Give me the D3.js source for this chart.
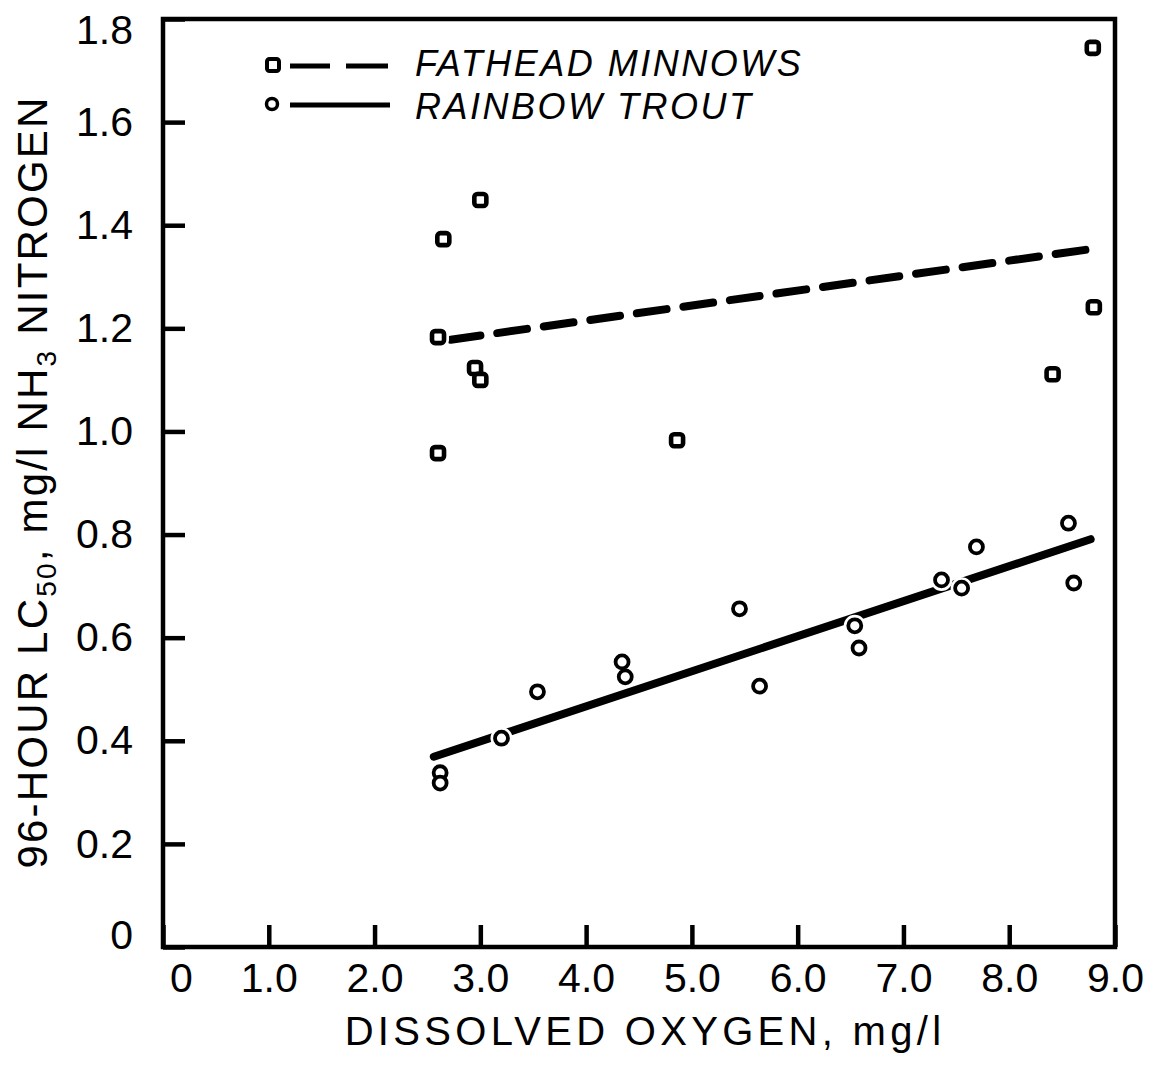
<!DOCTYPE html>
<html>
<head>
<meta charset="utf-8">
<script src="https://cdn.jsdelivr.net/npm/d3@7"></script>
<style>
  body { margin: 0; background: #fff; }
  svg { display: block; }
  text { font-family: "Liberation Sans", Arial, Helvetica, sans-serif; fill: #000; }
</style>
</head>
<body>
<div id="chart"></div>
<script>
// fathead minnows (squares)
const fatheadDO    = [2.60, 2.65, 3.00, 2.95, 3.00, 2.60, 4.86, 8.41, 8.79, 8.80];
const fatheadLC50  = [1.183, 1.373, 1.449, 1.123, 1.100, 0.958, 0.983, 1.111, 1.744, 1.241];
// rainbow trout (circles)
const troutDO      = [2.62, 2.62, 3.20, 3.54, 4.34, 4.37, 5.45, 5.64, 6.54, 6.58, 7.36, 7.55, 7.69, 8.56, 8.61];
const troutLC50    = [0.338, 0.318, 0.405, 0.495, 0.553, 0.524, 0.656, 0.506, 0.623, 0.580, 0.712, 0.696, 0.776, 0.822, 0.706];
// fitted lines, end points
const fatheadFitDO   = [2.72, 8.85];
const fatheadFitLC50 = [1.178, 1.356];
const troutFitDO     = [2.56, 8.77];
const troutFitLC50   = [0.369, 0.791];
// ticks
const xTicks = [0, 1, 2, 3, 4, 5, 6, 7, 8, 9];
const yTicks = [0, 0.2, 0.4, 0.6, 0.8, 1.0, 1.2, 1.4, 1.6, 1.8];
const legendNames = ["FATHEAD MINNOWS", "RAINBOW TROUT"];

const width = 1167, height = 1070;
const margin = {left: 163, right: 52, top: 19, bottom: 123};

const svg = d3.select("#chart").append("svg")
    .attr("width", width)
    .attr("height", height);

const x = d3.scaleLinear().domain([0, 9]).range([margin.left, width - margin.right]);
const y = d3.scaleLinear().domain([0, 1.8]).range([height - margin.bottom, margin.top]);

const fatheadPts = fatheadDO.map((d, i) => ({x: d, y: fatheadLC50[i]}));
const troutPts = troutDO.map((d, i) => ({x: d, y: troutLC50[i]}));
const line = d3.line().x(d => x(d[0])).y(d => y(d[1]));

// y axis, ticks pointing inward
const gy = svg.append("g")
    .attr("transform", `translate(${margin.left},0)`)
    .call(d3.axisLeft(y).tickValues(yTicks).tickSize(-22).tickPadding(30)
        .tickFormat(d => d === 0 ? "0" : d3.format(".1f")(d)));
gy.select(".domain").remove();
gy.selectAll(".tick line").attr("stroke", "#000").attr("stroke-width", 4.5);
gy.selectAll(".tick text").attr("font-size", 41).attr("fill", "#000");
gy.selectAll(".tick").filter(d => d === 1.8).select("text").attr("dy", "0.6em");
gy.selectAll(".tick").filter(d => d === 0).select("text").attr("dy", "0.03em");

// x axis
const gx = svg.append("g")
    .attr("transform", `translate(0,${height - margin.bottom})`)
    .call(d3.axisBottom(x).tickValues(xTicks).tickSize(-22).tickPadding(16)
        .tickFormat(d => d === 0 ? "0" : d3.format(".1f")(d)));
gx.select(".domain").remove();
gx.selectAll(".tick line").attr("stroke", "#000").attr("stroke-width", 4.5);
gx.selectAll(".tick text").attr("font-size", 41).attr("fill", "#000");
gx.selectAll(".tick").filter(d => d === 0).select("text").attr("dx", 18);

// frame
svg.append("rect")
    .attr("x", x(0)).attr("y", y(1.8))
    .attr("width", x(9) - x(0)).attr("height", y(0) - y(1.8))
    .attr("fill", "none").attr("stroke", "#000").attr("stroke-width", 4.5);

// fitted lines
svg.append("path")
    .datum(fatheadFitDO.map((d, i) => [d, fatheadFitLC50[i]]))
    .attr("d", line)
    .attr("fill", "none").attr("stroke", "#000").attr("stroke-width", 8)
    .attr("stroke-dasharray", "30,17").attr("stroke-linecap", "round");

svg.append("path")
    .datum(troutFitDO.map((d, i) => [d, troutFitLC50[i]]))
    .attr("d", line)
    .attr("fill", "none").attr("stroke", "#000").attr("stroke-width", 8)
    .attr("stroke-linecap", "round");

// points: white halo first so the lines break around them
function squares(g, pts, s) {
    g.selectAll("rect.halo").data(pts).join("rect")
        .attr("class", "halo")
        .attr("x", d => x(d.x) - s / 2).attr("y", d => y(d.y) - s / 2)
        .attr("width", s).attr("height", s).attr("rx", 3)
        .attr("fill", "#fff").attr("stroke", "#fff").attr("stroke-width", 10);
    g.selectAll("rect.mark").data(pts).join("rect")
        .attr("class", "mark")
        .attr("x", d => x(d.x) - s / 2).attr("y", d => y(d.y) - s / 2)
        .attr("width", s).attr("height", s).attr("rx", 3)
        .attr("fill", "#fff").attr("stroke", "#000").attr("stroke-width", 4.6);
}
function circles(g, pts, r) {
    g.selectAll("circle.halo").data(pts).join("circle")
        .attr("class", "halo")
        .attr("cx", d => x(d.x)).attr("cy", d => y(d.y)).attr("r", r)
        .attr("fill", "#fff").attr("stroke", "#fff").attr("stroke-width", 9);
    g.selectAll("circle.mark").data(pts).join("circle")
        .attr("class", "mark")
        .attr("cx", d => x(d.x)).attr("cy", d => y(d.y)).attr("r", r)
        .attr("fill", "#fff").attr("stroke", "#000").attr("stroke-width", 3.8);
}
squares(svg.append("g"), fatheadPts, 12);
circles(svg.append("g"), troutPts, 6.5);

// legend
const lg = svg.append("g");
lg.append("rect").attr("x", 267).attr("y", 59).attr("width", 12).attr("height", 12).attr("rx", 2.5)
    .attr("fill", "#fff").attr("stroke", "#000").attr("stroke-width", 4);
lg.append("line").attr("x1", 290).attr("x2", 388).attr("y1", 66).attr("y2", 66)
    .attr("stroke", "#000").attr("stroke-width", 5).attr("stroke-dasharray", "40,16,60");
lg.append("circle").attr("cx", 272).attr("cy", 104).attr("r", 5.5)
    .attr("fill", "#fff").attr("stroke", "#000").attr("stroke-width", 3.5);
lg.append("line").attr("x1", 290).attr("x2", 390).attr("y1", 105).attr("y2", 105)
    .attr("stroke", "#000").attr("stroke-width", 5);
lg.selectAll("text.leg").data(legendNames).join("text")
    .attr("class", "leg")
    .attr("x", 415).attr("y", (d, i) => 76 + i * 43)
    .attr("font-size", 36).attr("font-style", "italic").attr("letter-spacing", 2.5)
    .text(d => d);

// x title
svg.append("text")
    .attr("x", 645).attr("y", 1045)
    .attr("text-anchor", "middle")
    .attr("font-size", 40).attr("letter-spacing", 4.3)
    .text("DISSOLVED OXYGEN,  mg/l");

// y title with subscripts
const yt = svg.append("text")
    .attr("transform", "translate(47,482) rotate(-90)")
    .attr("text-anchor", "middle")
    .attr("font-size", 42).attr("letter-spacing", 2.2);
yt.append("tspan").text("96-HOUR LC");
yt.append("tspan").attr("font-size", 28).attr("dy", 9).text("50");
yt.append("tspan").attr("dy", -9).text(",  mg/l NH");
yt.append("tspan").attr("font-size", 28).attr("dy", 9).text("3");
yt.append("tspan").attr("dy", -9).text(" NITROGEN");
</script>
</body>
</html>
